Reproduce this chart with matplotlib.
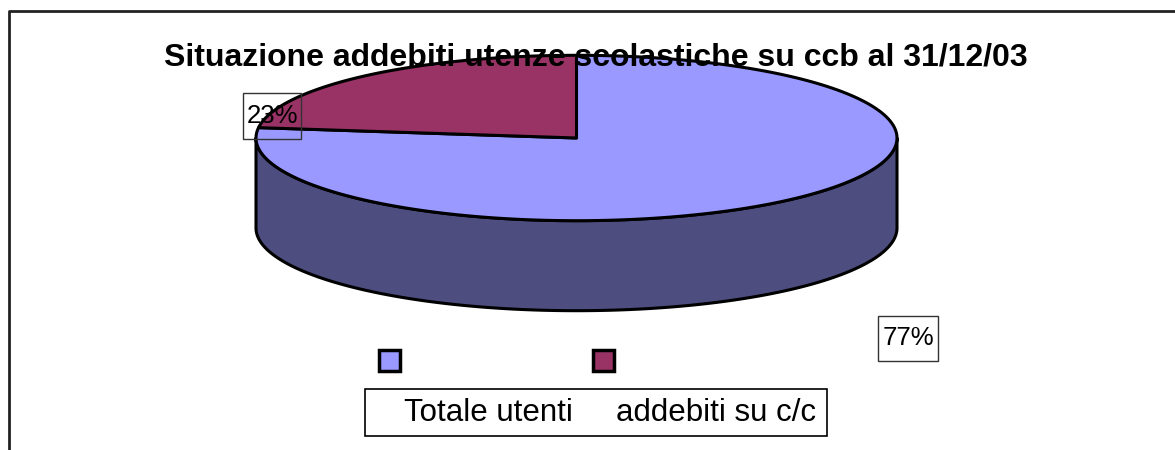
import numpy as np
import matplotlib.pyplot as plt
from matplotlib.patches import Polygon, Rectangle

TITLE = "Situazione addebiti utenze scolastiche su ccb al 31/12/03"
categories = ["Totale utenti", "addebiti su c/c"]
values = [77, 23]
top_colors = ["#9999ff", "#993366"]
side_colors = ["#4d4d80", "#4d1a33"]

# pie geometry in pixel coordinates
CX, CY, RX, RY, DEPTH = 576.5, 138, 320.5, 82.7, 90


def ellipse_pts(t0, t1, n=200, dy=0.0):
    t = np.radians(np.linspace(t0, t1, n))
    return np.column_stack([CX + RX * np.cos(t), CY - RY * np.sin(t) + dy])


fig = plt.figure(figsize=(11.75, 4.5), dpi=100)
ax = fig.add_axes([0, 0, 1, 1])
ax.set_xlim(0, 1175)
ax.set_ylim(450, 0)
ax.axis("off")

# outer frame (open at right and bottom, as in the reference)
ax.plot([9, 9, 1175], [450, 11, 11], color="#222222", lw=2, zorder=1)

# wedges: red starts at 12 o'clock going counter-clockwise, blue takes the rest
total = sum(values)
spans = [v / total * 360 for v in values]
start_red = 90
red = (start_red, start_red + spans[1])
blue = (red[1], start_red + 360)
wedges = [blue, red]

# visible front side (angles 180..360)
for (t0, t1), sc in zip(wedges, side_colors):
    for off in (0, 360, -360):
        a0, a1 = max(t0 + off, 180), min(t1 + off, 360)
        if a1 > a0:
            top = ellipse_pts(a0, a1)
            bot = ellipse_pts(a1, a0, dy=DEPTH)
            ax.add_patch(Polygon(np.vstack([top, bot]), closed=True,
                                 facecolor=sc, edgecolor="black", lw=2.2,
                                 joinstyle="round", zorder=2))

# top faces
for (t0, t1), tc in zip(wedges, top_colors):
    pts = np.vstack([[CX, CY], ellipse_pts(t0, t1), [CX, CY]])
    ax.add_patch(Polygon(pts, closed=True, facecolor=tc, edgecolor="black",
                         lw=2.2, joinstyle="round", zorder=3))

# percentage labels in open boxes
label_pos = [(908, 338, 878, 316, 60, 45), (272, 116, 243, 93, 58, 46)]
for v, (tx, ty, bx, by, bw, bh) in zip(values, label_pos):
    ax.add_patch(Rectangle((bx, by), bw, bh, facecolor="none",
                           edgecolor="#333333", lw=1, zorder=5))
    ax.text(tx, ty, f"{v}%", ha="center", va="center", fontsize=18.5,
            family="Liberation Sans", zorder=6)

ax.text(596, 57, TITLE, ha="center", va="center", fontsize=23,
        fontweight="bold", family="Liberation Sans", zorder=7)

# legend: swatches above, names in a box below
ax.add_patch(Rectangle((365, 389), 462, 47, facecolor="white",
                       edgecolor="black", lw=1.2, zorder=4))
for (sx, tx), name, col in zip([(379, 404), (593, 616)], categories, top_colors):
    ax.add_patch(Rectangle((sx, 350), 21, 21, facecolor=col,
                           edgecolor="black", lw=2.5, zorder=5))
    ax.text(tx, 413, name, ha="left", va="center", fontsize=22.5,
            family="Liberation Sans", zorder=6)

fig.savefig("out.png", dpi=100, facecolor="white")
